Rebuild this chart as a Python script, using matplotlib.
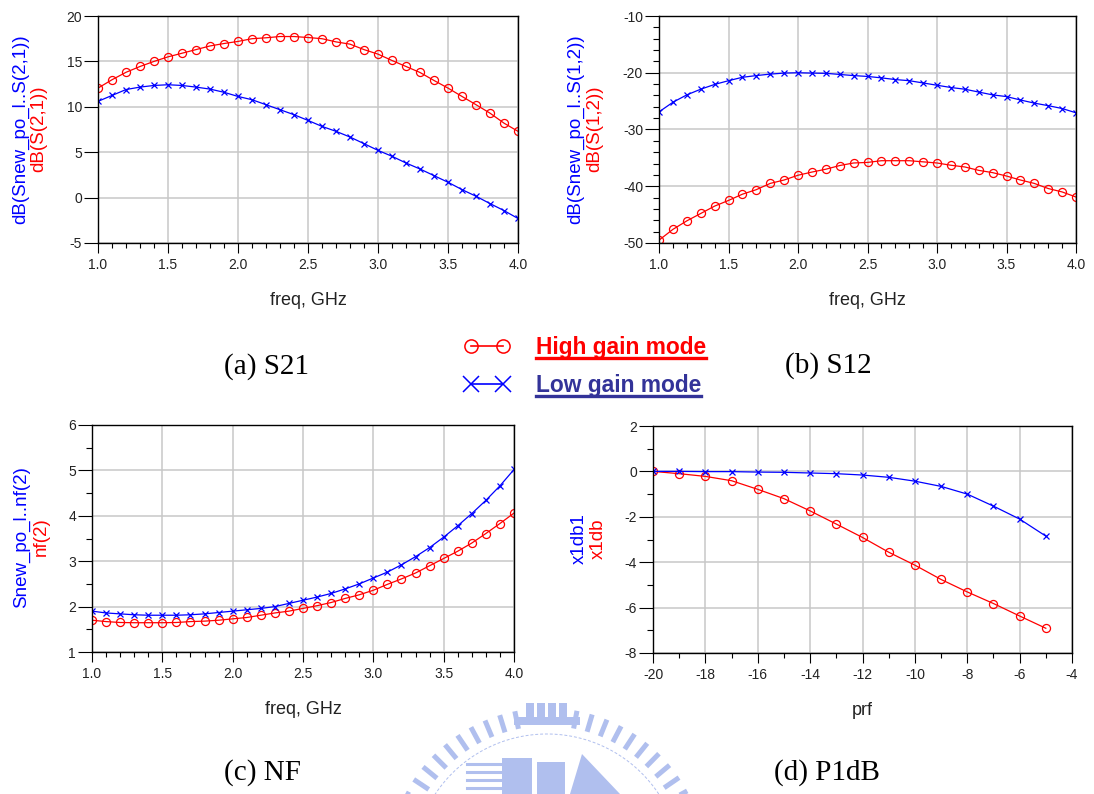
import matplotlib
matplotlib.use("Agg")
import matplotlib.pyplot as plt
import numpy as np
from matplotlib.lines import Line2D
from matplotlib.legend_handler import HandlerLine2D
from matplotlib.patches import Rectangle, Polygon
from matplotlib.ticker import MultipleLocator, FormatStrFormatter
from matplotlib.transforms import IdentityTransform

plt.rcParams["font.family"] = ["Liberation Sans", "DejaVu Sans"]
plt.rcParams["axes.unicode_minus"] = False

W, H = 1094, 794
RED = "#ff0000"
BLUE = "#0000ff"
LOW_TEXT = "#333399"
GRID = "#c8c8c8"

# frequency sweep (GHz) and input power sweep (dBm)
freq = [1.0, 1.1, 1.2, 1.3, 1.4, 1.5, 1.6, 1.7, 1.8, 1.9, 2.0,
        2.1, 2.2, 2.3, 2.4, 2.5, 2.6, 2.7, 2.8, 2.9, 3.0,
        3.1, 3.2, 3.3, 3.4, 3.5, 3.6, 3.7, 3.8, 3.9, 4.0]
prf = [-20, -19, -18, -17, -16, -15, -14, -13, -12, -11, -10, -9, -8, -7, -6, -5]

# S21 (dB)
s21_high = [12.06, 12.98, 13.8, 14.44, 15.0, 15.5, 15.9, 16.3, 16.7, 16.97, 17.2,
            17.5, 17.6, 17.74, 17.74, 17.63, 17.5, 17.15, 16.9, 16.3, 15.8,
            15.1, 14.44, 13.78, 12.9, 12.06, 11.14, 10.23, 9.3, 8.2, 7.3]
s21_low = [10.6, 11.25, 11.9, 12.17, 12.35, 12.43, 12.35, 12.17, 11.95, 11.6, 11.14,
           10.78, 10.23, 9.68, 9.13, 8.5, 7.84, 7.3, 6.67, 5.94, 5.2,
           4.55, 3.81, 3.15, 2.42, 1.69, 0.88, 0.15, -0.66, -1.43, -2.3]

# S12 (dB)
s12_high = [-49.5, -47.6, -46.1, -44.8, -43.5, -42.5, -41.4, -40.6, -39.5, -38.9, -38.06,
            -37.5, -37.0, -36.35, -35.9, -35.8, -35.5, -35.5, -35.5, -35.7, -35.9,
            -36.3, -36.6, -37.2, -37.6, -38.2, -38.9, -39.5, -40.4, -41.0, -41.9]
s12_low = [-26.9, -25.2, -23.9, -22.9, -22.06, -21.4, -20.8, -20.5, -20.24, -20.06, -20.0,
           -20.06, -20.1, -20.3, -20.5, -20.65, -20.9, -21.2, -21.4, -21.8, -22.2,
           -22.6, -22.9, -23.4, -23.9, -24.2, -24.8, -25.35, -25.8, -26.3, -27.06]

# noise figure (dB)
nf_high = [1.7, 1.67, 1.65, 1.645, 1.645, 1.645, 1.65, 1.67, 1.68, 1.7, 1.73,
           1.76, 1.81, 1.86, 1.9, 1.96, 2.02, 2.09, 2.18, 2.26, 2.36,
           2.49, 2.61, 2.74, 2.9, 3.06, 3.22, 3.4, 3.61, 3.83, 4.06]
nf_low = [1.9, 1.86, 1.84, 1.82, 1.81, 1.81, 1.81, 1.82, 1.84, 1.87, 1.9,
          1.93, 1.96, 2.0, 2.07, 2.14, 2.21, 2.29, 2.39, 2.5, 2.63,
          2.76, 2.92, 3.1, 3.3, 3.53, 3.78, 4.05, 4.34, 4.66, 5.02]

# gain compression (dB)
x1db_high = [0.0, -0.1, -0.22, -0.41, -0.79, -1.2, -1.74, -2.32, -2.91, -3.56, -4.13,
             -4.76, -5.31, -5.82, -6.37, -6.91]
x1db_low = [0.0, 0.0, -0.01, -0.01, -0.03, -0.04, -0.07, -0.1, -0.16, -0.26, -0.43,
            -0.66, -1.0, -1.53, -2.1, -2.85]


def px_rect(left, right, top, bottom):
    return [left / W, 1 - bottom / H, (right - left) / W, (bottom - top) / H]


def px(x, y):
    return x / W, 1 - y / H


def style_axes(ax, xlim, xmaj, xmin, ylim, ymaj, ymin, xfmt, xlabel):
    ax.set_xlim(*xlim)
    ax.set_ylim(*ylim)
    ax.xaxis.set_major_locator(MultipleLocator(xmaj))
    ax.xaxis.set_minor_locator(MultipleLocator(xmin))
    ax.yaxis.set_major_locator(MultipleLocator(ymaj))
    if ymin:
        ax.yaxis.set_minor_locator(MultipleLocator(ymin))
    ax.xaxis.set_major_formatter(FormatStrFormatter(xfmt))
    ax.yaxis.set_major_formatter(FormatStrFormatter("%d"))
    ax.grid(True, which="major", color=GRID, linewidth=1.1)
    ax.set_axisbelow(True)
    for sp in ax.spines.values():
        sp.set_color("black")
        sp.set_linewidth(1.0)
    ax.tick_params(axis="x", which="major", direction="out", length=7, width=0.8,
                   pad=3.5, labelsize=10, labelcolor="#222222")
    ax.tick_params(axis="x", which="minor", direction="out", length=3.8, width=0.8)
    ax.tick_params(axis="y", which="major", direction="out", length=10, width=0.8,
                   pad=1.5, labelsize=10, labelcolor="#222222")
    ax.tick_params(axis="y", which="minor", direction="out", length=4.3, width=0.8)
    ax.set_xlabel(xlabel, fontsize=13, color="#222222", labelpad=15)


def plot_pair(ax, x, high, low):
    ax.plot(x, high, color=RED, linewidth=0.9, marker="o", markersize=5.8,
            markerfacecolor="none", markeredgecolor=RED, markeredgewidth=0.9)
    ax.plot(x, low, color=BLUE, linewidth=0.9, marker="x", markersize=4.4,
            markeredgewidth=0.9)


def y_labels(fig, blue_x, red_x, yc, blue_txt, red_txt):
    fig.text(*px(blue_x, yc), blue_txt, rotation=90, color=BLUE, fontsize=13.5,
             ha="center", va="center")
    fig.text(*px(red_x, yc), red_txt, rotation=90, color=RED, fontsize=13.5,
             ha="center", va="center")


fig = plt.figure(figsize=(W / 100, H / 100), dpi=100)
fig.patch.set_facecolor("white")

# faint logo in the background
wax = fig.add_axes([0, 0, 1, 1], zorder=-5)
wax.set_xlim(0, W)
wax.set_ylim(H, 0)
wax.axis("off")
logo = "#b0bfee"
cx, cy = 547, 868
for ang in np.arange(-62, 63, 5.6):
    if abs(ang) < 9:
        continue
    t = np.radians(ang)
    r1, r2 = 142, 160
    wax.plot([cx + r1 * np.sin(t), cx + r2 * np.sin(t)],
             [cy - r1 * np.cos(t), cy - r2 * np.cos(t)],
             color=logo, linewidth=3.6, solid_capstyle="butt")
ring = np.radians(np.linspace(-60, 60, 120))
wax.plot(cx + 134 * np.sin(ring), cy - 134 * np.cos(ring), color=logo,
         linewidth=0.7, linestyle=(0, (3, 2)))
for bx in (526, 537, 548, 559):
    wax.add_patch(Rectangle((bx, 703), 8, 16, color=logo, linewidth=0))
wax.add_patch(Rectangle((514, 717), 66, 8, color=logo, linewidth=0))
for yy in (764, 772, 780, 788):
    wax.plot([467, 500], [yy, yy], color=logo, linewidth=2.2)
wax.add_patch(Rectangle((502, 758), 30, 36, color=logo, linewidth=0))
wax.add_patch(Rectangle((537, 762), 28, 32, color=logo, linewidth=0))
wax.add_patch(Polygon([[570, 794], [582, 754], [620, 794]], color=logo, linewidth=0))

# (a) S21
ax1 = fig.add_axes(px_rect(98, 518, 16, 243))
plot_pair(ax1, freq, s21_high, s21_low)
style_axes(ax1, (1.0, 4.0), 0.5, 0.1, (-5, 20), 5, None, "%.1f", "freq, GHz")
y_labels(fig, 21, 39, 129, "dB(Snew_po_l..S(2,1))", "dB(S(2,1))")

# (b) S12
ax2 = fig.add_axes(px_rect(659, 1076, 16, 243))
plot_pair(ax2, freq, s12_high, s12_low)
style_axes(ax2, (1.0, 4.0), 0.5, 0.1, (-50, -10), 10, 2, "%.1f", "freq, GHz")
y_labels(fig, 576, 595, 129, "dB(Snew_po_l..S(1,2))", "dB(S(1,2))")

# (c) NF
ax3 = fig.add_axes(px_rect(92, 514, 425, 652))
plot_pair(ax3, freq, nf_high, nf_low)
style_axes(ax3, (1.0, 4.0), 0.5, 0.1, (1, 6), 1, 0.5, "%.1f", "freq, GHz")
y_labels(fig, 22, 41, 537, "Snew_po_l..nf(2)", "nf(2)")

# (d) P1dB
ax4 = fig.add_axes(px_rect(653, 1072, 426, 653))
plot_pair(ax4, prf, x1db_high, x1db_low)
style_axes(ax4, (-20, -4), 2, 1, (-8, 2), 2, 1, "%d", "prf")
y_labels(fig, 579, 598, 539, "x1db1", "x1db")

# sub-figure captions
for (cxp, cyp), txt in [((267, 367), "(a) S21"), ((828, 366), "(b) S12"),
                        ((262, 773), "(c) NF"), ((827, 773), "(d) P1dB")]:
    fig.text(*px(cxp, cyp), txt, fontsize=21, family="Liberation Serif",
             ha="center", va="center", color="black")

# shared mode key
h_high = Line2D([], [], color=RED, linewidth=1.2, marker="o", markersize=9.5,
                markerfacecolor="none", markeredgecolor=RED, markeredgewidth=1.1)
h_low = Line2D([], [], color=BLUE, linewidth=1.2, marker="x", markersize=12,
               markeredgewidth=1.1)
leg = fig.legend([h_high, h_low], ["High gain mode", "Low gain mode"],
                 loc="upper left", bbox_to_anchor=px(452, 336), frameon=False,
                 borderpad=0, borderaxespad=0, handlelength=3.1, handletextpad=0.57,
                 labelspacing=0.66,
                 prop={"size": 16.4, "weight": "bold", "family": "Liberation Sans"},
                 handler_map={h_high: HandlerLine2D(numpoints=2, marker_pad=0.85),
                              h_low: HandlerLine2D(numpoints=2, marker_pad=0.85)})
for t, c in zip(leg.get_texts(), [RED, LOW_TEXT]):
    t.set_color(c)

fig.canvas.draw()
renderer = fig.canvas.get_renderer()
for t, c in zip(leg.get_texts(), [RED, LOW_TEXT]):
    bb = t.get_window_extent(renderer)
    fig.add_artist(Line2D([bb.x0, bb.x1], [bb.y0 + 1, bb.y0 + 1], color=c,
                          linewidth=2.4, transform=IdentityTransform()))

fig.savefig("out.png", dpi=100, facecolor="white")
